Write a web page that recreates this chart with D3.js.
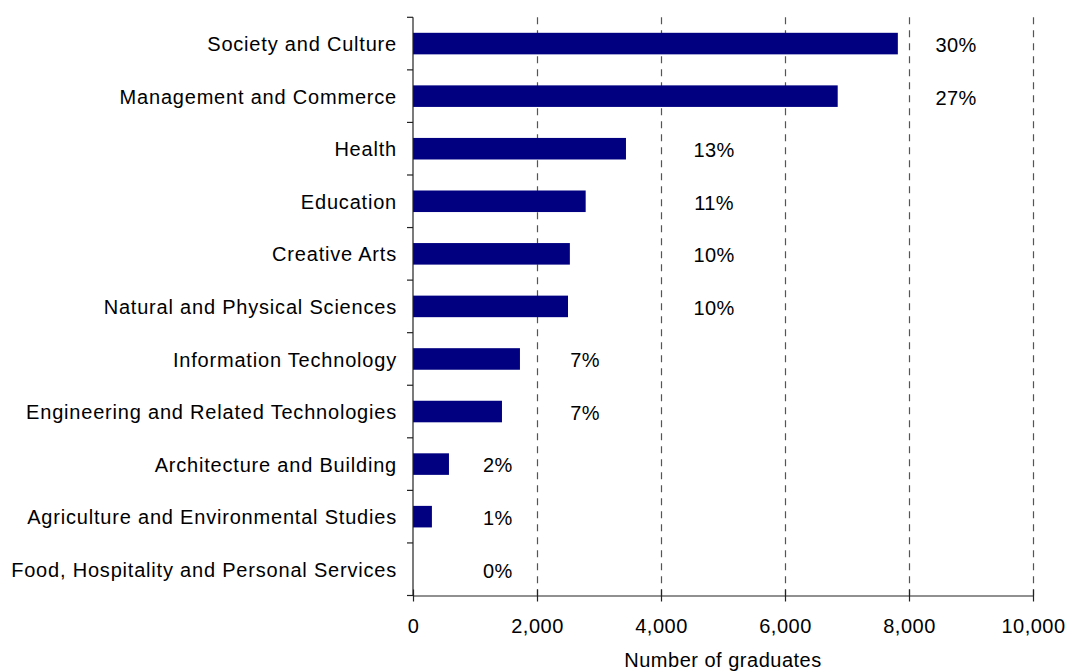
<!DOCTYPE html>
<html>
<head>
<meta charset="utf-8">
<script src="https://cdn.jsdelivr.net/npm/d3@7"></script>
<style>
  html, body { margin: 0; padding: 0; background: #fff; }
  svg { display: block; font-family: "Liberation Sans", Arial, sans-serif; }
</style>
</head>
<body>
<svg id="chart" width="1066" height="671"></svg>
<script>
// Graduates by field of education
const fields = [
  "Society and Culture",
  "Management and Commerce",
  "Health",
  "Education",
  "Creative Arts",
  "Natural and Physical Sciences",
  "Information Technology",
  "Engineering and Related Technologies",
  "Architecture and Building",
  "Agriculture and Environmental Studies",
  "Food, Hospitality and Personal Services"
];
const graduates = [7820, 6850, 3435, 2785, 2530, 2500, 1725, 1435, 580, 305, 0];
const shareLabels = ["30%", "27%", "13%", "11%", "10%", "10%", "7%", "7%", "2%", "1%", "0%"];
const xTicks = [0, 2000, 4000, 6000, 8000, 10000];
const xTitle = "Number of graduates";

const svg = d3.select("#chart");
const fontSize = 20;

const x = d3.scaleLinear().domain([0, 10000]).range([413, 1033]);
const y = d3.scaleBand().domain(fields).range([17.3, 595.5])
  .paddingInner(0.59).paddingOuter(0.295);

// percentage labels sit in columns, placed by share size (in graduate units)
const labelLanes = [
  { min: 20, at: 8760 },
  { min: 8, at: 4855 },
  { min: 5, at: 2775 },
  { min: 0, at: 1370 }
];
const laneFor = s => labelLanes.find(l => parseFloat(s) >= l.min).at;

const plotTop = y.range()[0], plotBottom = y.range()[1];

// dashed vertical gridlines
svg.append("g").selectAll("line")
  .data(xTicks.filter(t => t > 0))
  .join("line")
  .attr("x1", d => Math.round(x(d)) + 0.5).attr("x2", d => Math.round(x(d)) + 0.5)
  .attr("y1", plotTop).attr("y2", plotBottom)
  .attr("stroke", "#555").attr("stroke-width", 1.2)
  .attr("stroke-dasharray", "7,6");

// bars
svg.append("g").selectAll("rect")
  .data(fields)
  .join("rect")
  .attr("x", x(0))
  .attr("y", d => y(d))
  .attr("width", (d, i) => x(graduates[i]) - x(0))
  .attr("height", y.bandwidth())
  .attr("fill", "#000080");

// y axis: line with ticks at band boundaries
const yAxis = svg.append("g");
yAxis.append("line")
  .attr("x1", x(0)).attr("x2", x(0)).attr("y1", plotTop).attr("y2", plotBottom)
  .attr("stroke", "#222").attr("stroke-width", 1.2);
const bounds = d3.range(fields.length + 1).map(i => plotTop + i * y.step());
yAxis.selectAll("line.tick")
  .data(bounds)
  .join("line")
  .attr("class", "tick")
  .attr("x1", x(0) - 6).attr("x2", x(0))
  .attr("y1", d => d).attr("y2", d => d)
  .attr("stroke", "#222").attr("stroke-width", 1.2);

// category labels
svg.append("g").selectAll("text")
  .data(fields)
  .join("text")
  .attr("x", 397)
  .attr("y", d => y(d) + y.bandwidth() / 2)
  .attr("dy", "0.38em")
  .attr("text-anchor", "end")
  .attr("font-size", fontSize)
  .attr("letter-spacing", 0.8)
  .attr("fill", "#000")
  .text(d => d);

// share labels
svg.append("g").selectAll("text")
  .data(fields)
  .join("text")
  .attr("x", (d, i) => x(laneFor(shareLabels[i])))
  .attr("y", d => y(d) + y.bandwidth() / 2)
  .attr("dy", "0.42em")
  .attr("text-anchor", "middle")
  .attr("font-size", fontSize)
  .attr("letter-spacing", 0.4)
  .attr("fill", "#000")
  .text((d, i) => shareLabels[i]);

// x axis with crossing ticks
const xAxis = svg.append("g").attr("transform", `translate(0,${plotBottom})`)
  .call(d3.axisBottom(x).tickValues(xTicks).tickFormat(d3.format(",")).tickSizeInner(6).tickSizeOuter(0));
xAxis.select(".domain").attr("stroke", "#222").attr("stroke-width", 1.2);
xAxis.selectAll(".tick line")
  .attr("y1", -6).attr("y2", 6)
  .attr("stroke", "#222").attr("stroke-width", 1.2);
xAxis.selectAll(".tick text")
  .attr("y", 0).attr("dy", 0)
  .attr("transform", `translate(0,${633 - plotBottom})`)
  .attr("font-size", fontSize)
  .attr("letter-spacing", 0.5)
  .attr("font-family", "Liberation Sans, Arial, sans-serif")
  .attr("fill", "#000");

// axis title
svg.append("text")
  .attr("x", (x.range()[0] + x.range()[1]) / 2)
  .attr("y", 667)
  .attr("text-anchor", "middle")
  .attr("font-size", fontSize)
  .attr("letter-spacing", 0.5)
  .attr("fill", "#000")
  .text(xTitle);
</script>
</body>
</html>
